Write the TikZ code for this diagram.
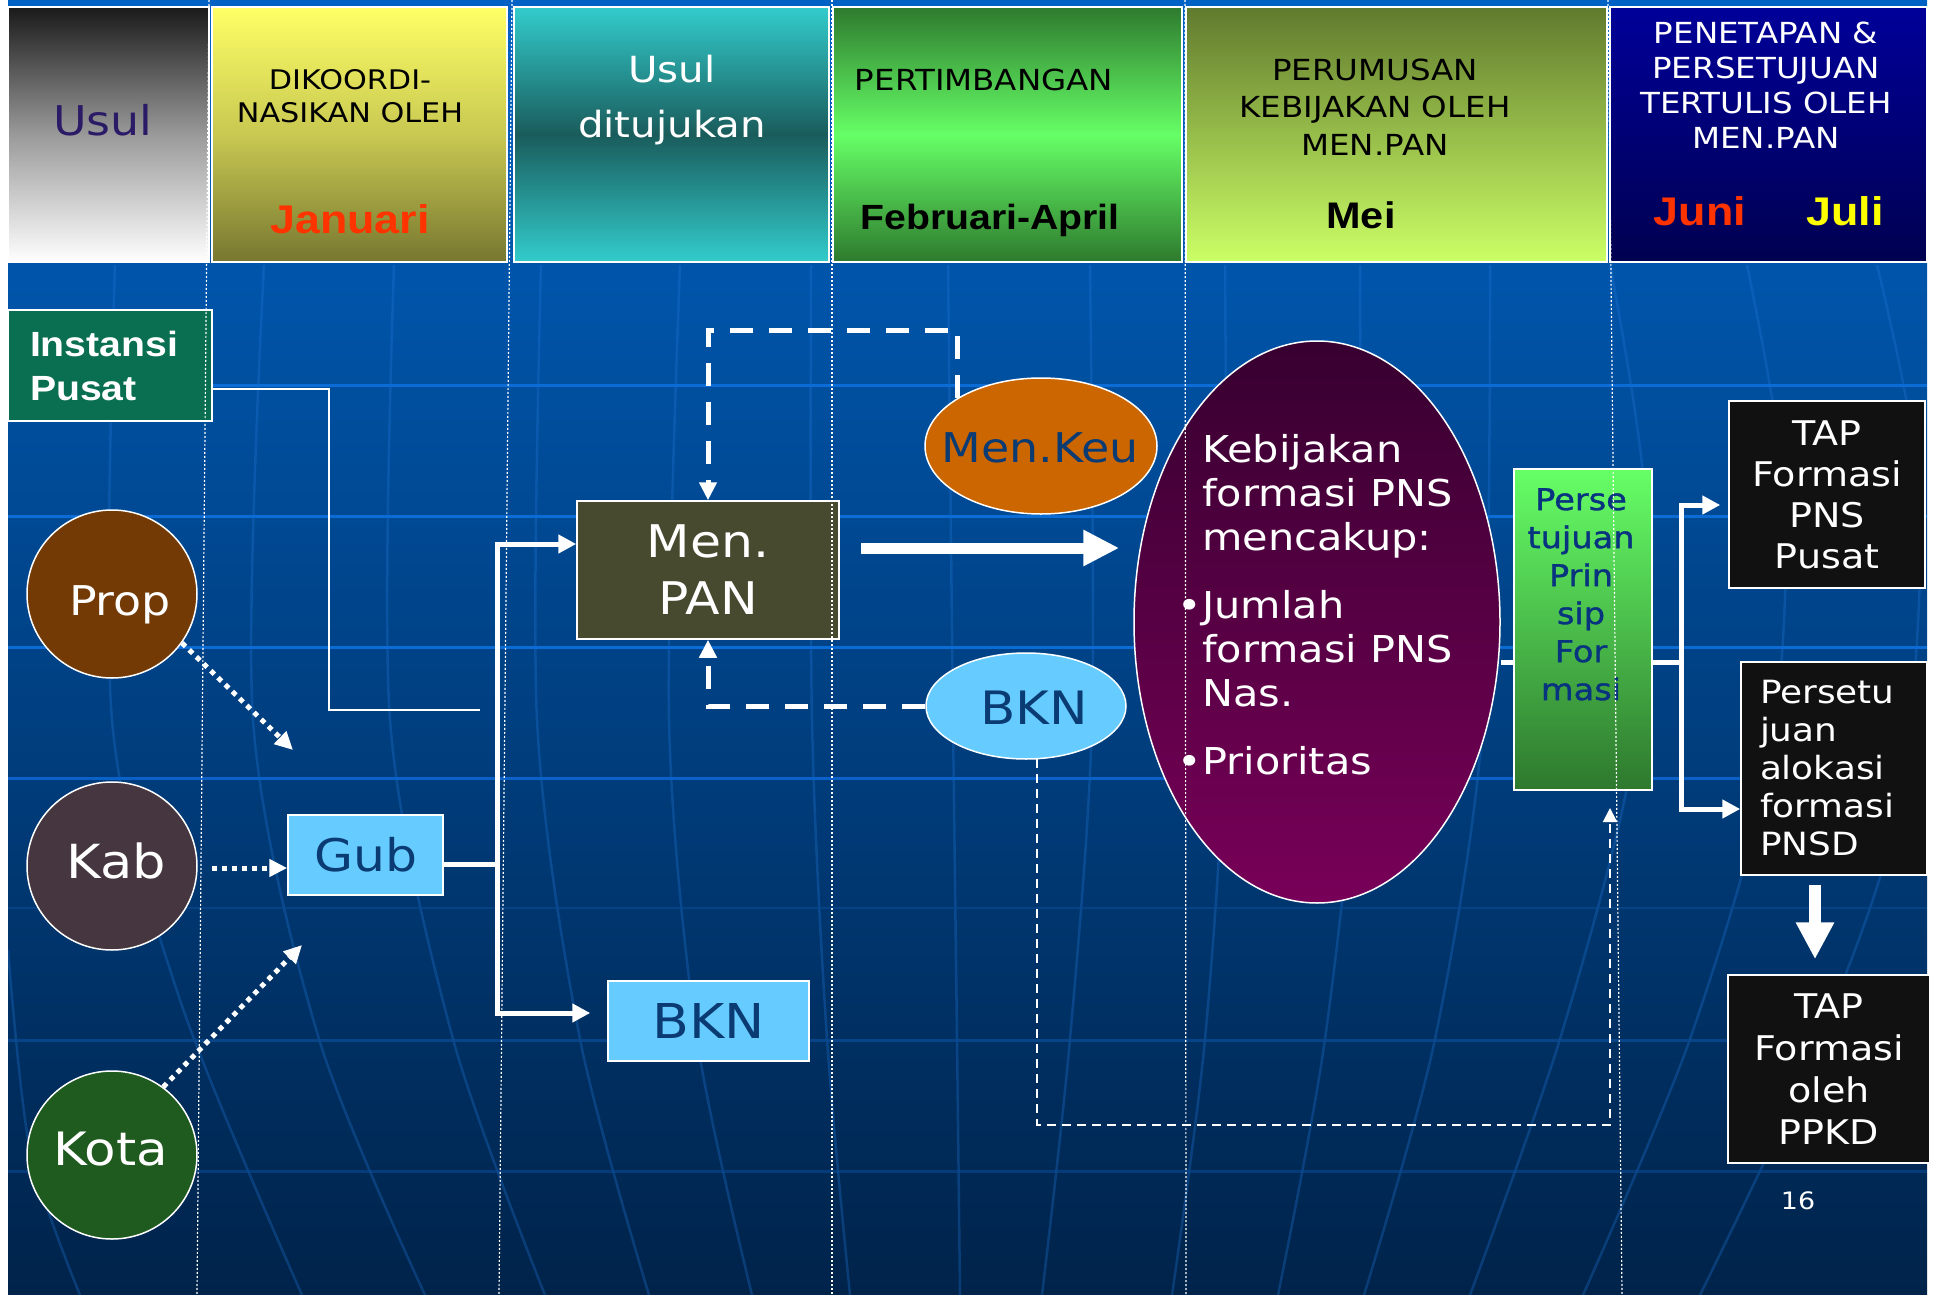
\documentclass[tikz,border=0pt]{standalone}
\usepackage{fontspec}
\setmainfont{DejaVu Sans}[FakeStretch=1.12]
\newfontfamily\arialb{Liberation Sans}[FakeStretch=1.12]
\newfontfamily\dvbold{DejaVu Sans}[FakeStretch=1.12,FakeBold=1.2]
\usetikzlibrary{shapes.geometric,arrows.meta}
\definecolor{bgtop}{HTML}{0062C4}
\definecolor{bgmid}{HTML}{004A94}
\definecolor{bgbot}{HTML}{00234A}
\definecolor{hlineA}{HTML}{0C6CD6}
\definecolor{hlineB}{HTML}{0A62C8}
\definecolor{hlineC}{HTML}{0A4A92}
\definecolor{meridc}{HTML}{2278DA}
\definecolor{usultxt}{HTML}{2B1A66}
\definecolor{redtxt}{HTML}{FF3300}
\definecolor{yellowtxt}{HTML}{FFFF00}
\definecolor{darkbluetxt}{HTML}{0B3B73}
\definecolor{instfill}{HTML}{0A6E50}
\definecolor{propfill}{HTML}{733A05}
\definecolor{kabfill}{HTML}{45363F}
\definecolor{kotafill}{HTML}{1F5A1E}
\definecolor{lightblue}{HTML}{66CCFF}
\definecolor{olivefill}{HTML}{474A2E}
\definecolor{orangefill}{HTML}{CC6600}
\definecolor{purpletop}{HTML}{370030}
\definecolor{purplebot}{HTML}{780058}
\definecolor{greentop}{HTML}{66FF66}
\definecolor{greenbot}{HTML}{2E782E}
\definecolor{blackfill}{HTML}{111111}
\definecolor{perstxt}{HTML}{08337F}
\definecolor{h1top}{HTML}{1A1A1A}
\definecolor{h1mid}{HTML}{9A9A9A}
\definecolor{h2top}{HTML}{FFFF66}
\definecolor{h2mid}{HTML}{C8C852}
\definecolor{h2bot}{HTML}{777730}
\definecolor{h3top}{HTML}{33CCCC}
\definecolor{h3mid}{HTML}{1A5C5C}
\definecolor{h4top}{HTML}{2E7A2E}
\definecolor{h4mid}{HTML}{66FF66}
\definecolor{h5top}{HTML}{617A2E}
\definecolor{h5bot}{HTML}{CCFF66}
\definecolor{h6top}{HTML}{000099}
\definecolor{h6bot}{HTML}{000050}
\newcommand\fsz[2]{\fontsize{#1}{#2}\selectfont}
\begin{document}
\begin{tikzpicture}[x=1pt,y=-1pt,
  hdr/.style={rectangle,draw=white,line width=1.5pt,inner sep=0pt},
  htext/.style={inner sep=0pt,align=center},
  box/.style={rectangle,draw=white,line width=1.5pt,inner sep=0pt,align=center},
  ell/.style={ellipse,draw=white,line width=1.5pt,inner sep=0pt},
  lbl/.style={inner sep=0pt,anchor=base},
  thickw/.style={draw=white,line width=5pt},
  tipw/.style={-{Triangle[length=18pt,width=18pt]}},
  dotw/.style={draw=white,line width=5pt,dash pattern=on 5pt off 5pt,-{Triangle[length=18pt,width=17pt]}},
  dashw/.style={draw=white,line width=5pt,dash pattern=on 23pt off 16pt,-{Triangle[length=18pt,width=17pt]}},
  thindash/.style={draw=white,line width=2pt,dash pattern=on 9pt off 6pt,-{Triangle[length=14pt,width=14pt]}},
  colsep/.style={draw=white,line width=1.2pt,dash pattern=on 2pt off 2pt},
  meridian/.style={draw=meridc,line width=2.5pt,opacity=0.3},
]
\useasboundingbox (0,0) rectangle (1933,1295);
\fill[white] (0,0) rectangle (1933,1295);
\shade[top color=bgtop,middle color=bgmid,bottom color=bgbot] (8,0) rectangle (1927,1295);

% background grid
\begin{scope}
\clip (8,265) rectangle (1927,1295);
\draw[meridian] plot[smooth] coordinates {(8,950) (30,1150) (80,1295)};
\draw[meridian] plot[smooth] coordinates {(115,265) (112,720) (180,1000) (302,1295)};
\draw[meridian] plot[smooth] coordinates {(264,265) (253,720) (319,1039) (425,1295)};
\draw[meridian] plot[smooth] coordinates {(394,265) (390,720) (453,1039) (545,1295)};
\draw[meridian] plot[smooth] coordinates {(541,265) (537,720) (580,1039) (649,1295)};
\draw[meridian] plot[smooth] coordinates {(680,265) (669,720) (697,1039) (752,1295)};
\draw[meridian] plot[smooth] coordinates {(811,265) (812,720) (827,1039) (850,1295)};
\draw[meridian] plot[smooth] coordinates {(948,265) (953,720) (957,1039) (960,1295)};
\draw[meridian] plot[smooth] coordinates {(1090,265) (1092,720) (1070,1039) (1042,1295)};
\draw[meridian] plot[smooth] coordinates {(1225,265) (1225,720) (1205,1039) (1172,1295)};
\draw[meridian] plot[smooth] coordinates {(1360,265) (1357,720) (1325,1039) (1278,1295)};
\draw[meridian] plot[smooth] coordinates {(1490,265) (1483,720) (1435,1039) (1364,1295)};
\draw[meridian] plot[smooth] coordinates {(1610,265) (1645,500) (1632,760) (1560,1039) (1470,1295)};
\draw[meridian] plot[smooth] coordinates {(1747,265) (1785,500) (1770,760) (1690,1039) (1583,1295)};
\draw[meridian] plot[smooth] coordinates {(1877,265) (1920,500) (1900,800) (1820,1039) (1700,1295)};
\end{scope}
\foreach \yy in {385,516,647} \draw[draw=hlineA,line width=3pt] (8,\yy) -- (1927,\yy);
\draw[draw=hlineB,line width=3pt] (8,778) -- (1927,778);
\draw[draw=hlineC,line width=2pt,opacity=0.6] (8,908) -- (1927,908);
\draw[draw=hlineC,line width=3pt,opacity=0.8] (8,1040) -- (1927,1040);
\draw[draw=hlineC,line width=3pt,opacity=0.6] (8,1171) -- (1927,1171);

% header
\node[hdr,top color=h1top,bottom color=white,middle color=h1mid,minimum width=201pt,minimum height=255pt] (hUsul) at (108.5,134.5) {};
\node[hdr,top color=h2top,bottom color=h2bot,middle color=h2mid,minimum width=295pt,minimum height=255pt] (hKoord) at (359.5,134.5) {};
\node[hdr,top color=h3top,bottom color=h3top,middle color=h3mid,minimum width=315pt,minimum height=255pt] (hDituju) at (671.5,134.5) {};
\node[hdr,top color=h4top,bottom color=h4top,middle color=h4mid,minimum width=349pt,minimum height=255pt] (hPert) at (1007.5,134.5) {};
\node[hdr,top color=h5top,bottom color=h5bot,minimum width=421pt,minimum height=255pt] (hPerum) at (1396.5,134.5) {};
\node[hdr,top color=h6top,bottom color=h6bot,minimum width=317pt,minimum height=255pt] (hPenet) at (1768.5,134.5) {};

\node[lbl,text=usultxt,font=\fsz{41}{49}] (tUsul) at (103,136) {Usul};
\node[htext,anchor=north,font=\fsz{27}{33}] (tKoord) at (350,69) {DIKOORDI-\\NASIKAN OLEH};
\node[lbl,text=redtxt,font={\arialb\bfseries\fsz{40}{48}}] (tJan) at (350,233) {Januari};
\node[htext,anchor=north,text=white,font=\fsz{36}{55}] (tDituju) at (672,55) {Usul\\ditujukan};
\node[lbl,font=\fsz{29}{35}] (tPert) at (984,91) {PERTIMBANGAN};
\node[lbl,font={\arialb\bfseries\fsz{35}{42}}] (tFeb) at (990,229) {Februari-April};
\node[htext,anchor=north,font=\fsz{29}{37.5}] (tPerum) at (1375,58.5) {PERUMUSAN\\KEBIJAKAN OLEH\\MEN.PAN};
\node[lbl,font={\arialb\bfseries\fsz{37}{44}}] (tMei) at (1361,228) {Mei};
\node[htext,anchor=north,text=white,font=\fsz{29}{35}] (tPenet) at (1766,21.5) {PENETAPAN \&\\PERSETUJUAN\\TERTULIS OLEH\\MEN.PAN};
\node[lbl,text=redtxt,font={\arialb\bfseries\fsz{40}{48}}] (tJuni) at (1700,225) {Juni};
\node[lbl,text=yellowtxt,font={\arialb\bfseries\fsz{40}{48}}] (tJuli) at (1845,225) {Juli};

% body nodes
\node[box,fill=instfill,minimum width=204pt,minimum height=111pt,text=white,align=left,text width=160pt,font={\arialb\bfseries\fsz{35}{44}}] (inst) at (110,365.5) {Instansi\\Pusat};
\node[ell,fill=propfill,minimum width=170pt,minimum height=168pt] (prop) at (112,594) {};
\node[lbl,text=white,font=\fsz{41}{49}] (propT) at (120,615) {Prop};
\node[ell,fill=kabfill,minimum width=170pt,minimum height=168pt] (kab) at (112,866) {};
\node[lbl,text=white,font=\fsz{47}{56}] (kabT) at (116,878) {Kab};
\node[ell,fill=kotafill,minimum width=170pt,minimum height=168pt] (kota) at (112,1155) {};
\node[lbl,text=white,font=\fsz{46}{55}] (kotaT) at (110.5,1165.5) {Kota};
\node[box,fill=lightblue,minimum width=155pt,minimum height=80pt,text=darkbluetxt,font=\fsz{45}{54}] (gub) at (365.5,855) {Gub};
\node[box,fill=lightblue,minimum width=201pt,minimum height=80pt,text=darkbluetxt,font=\fsz{48}{56}] (bknB) at (708.5,1021) {BKN};
\node[box,fill=olivefill,minimum width=262pt,minimum height=138pt,text=white,font=\fsz{45}{57}] (menpan) at (708,570) {Men.\\PAN};
\node[ell,fill=orangefill,minimum width=232pt,minimum height=136pt] (menkeu) at (1041,446) {};
\node[lbl,text=darkbluetxt,font=\fsz{41}{49}] (menkeuT) at (1040,462) {Men.Keu};
\node[ell,fill=lightblue,minimum width=200pt,minimum height=106pt] (bknE) at (1026,706) {};
\node[lbl,text=darkbluetxt,font=\fsz{46}{55}] (bknET) at (1034,724) {BKN};
\node[ell,top color=purpletop,bottom color=purplebot,minimum width=366pt,minimum height=562pt] (kebij) at (1317,622) {};
\node[htext,anchor=north west,align=left,text=white,font=\fsz{37}{44}] (kebijT) at (1202,434) {Kebijakan\\formasi PNS\\mencakup:\\[24pt]\llap{•}Jumlah\\formasi PNS\\Nas.\\[24pt]\llap{•}Prioritas};
\node[box,top color=greentop,bottom color=greenbot,minimum width=138pt,minimum height=321pt] (pers) at (1583,629.5) {};
\node[htext,anchor=north,text=perstxt,font={\dvbold\fsz{30}{38}}] (persT) at (1581,488) {Perse\\tujuan\\Prin\\sip\\For\\masi};
\node[box,fill=blackfill,minimum width=196pt,minimum height=187pt,text=white,font=\fsz{34}{41}] (tapP) at (1827,494.5) {TAP\\Formasi\\PNS\\Pusat};
\node[box,fill=blackfill,minimum width=186pt,minimum height=213pt,text=white,align=left,text width=148pt,font=\fsz{32}{38}] (perset) at (1834,768.5) {Persetu\\juan\\alokasi\\formasi\\PNSD};
\node[box,fill=blackfill,minimum width=202pt,minimum height=188pt,text=white,font=\fsz{34}{42}] (tapD) at (1829,1069) {TAP\\Formasi\\oleh\\PPKD};
\node[lbl,text=white,font=\fsz{24}{29}] (pageno) at (1798,1209) {16};

% connectors
\coordinate (instEnd) at (480,710);
\draw[draw=white,line width=2pt] (inst.east |- 0,389) -- (329,389) -- (329,710) -- (instEnd);

\coordinate (jTop) at (497,544);
\coordinate (jBot) at (497,1013);
\draw[thickw,line cap=rect] (jTop) -- (jBot);
\draw[thickw] (gub.east |- 0,864) -- (jTop |- 0,864);
\draw[thickw,tipw] (jTop) -- (menpan.west |- jTop);
\draw[thickw,tipw,shorten >=17pt] (jBot) -- (bknB.west |- jBot);

\coordinate (propTo) at (293,750);
\draw[dotw] (prop.-35) -- (propTo);
\draw[dotw,shorten <=14pt] (kab.east |- 0,868) -- (gub.west |- 0,868);
\coordinate (kotaTo) at (302,945);
\draw[dotw] (kota.53) -- (kotaTo);

\draw[dashw] (menkeu.150) |- (menpan.north |- 0,330) -- (menpan.north);
\draw[dashw] (bknE.west) -| (menpan.south);

\draw[draw=white,line width=11pt,-{Triangle[length=36pt,width=34pt]},shorten <=21pt,shorten >=14pt] (menpan.east |- 0,548) -- (kebij.west |- 0,548);

\coordinate (persUp) at (1610,808);
\draw[thindash] (bknE.-78) |- (persUp |- 0,1125) -- (persUp);

\draw[thickw] (kebij.east |- 0,662) -- (pers.west |- 0,662);
\coordinate (bTop) at (1681,505);
\coordinate (bBot) at (1681,809);
\draw[thickw] (pers.east |- 0,662) -- (bTop |- 0,662);
\draw[thickw,line cap=rect] (bTop) -- (bBot);
\draw[thickw,tipw,shorten >=8pt] (bTop) -- (tapP.west |- bTop);
\draw[thickw,tipw] (bBot) -- (perset.west |- bBot);

\draw[draw=white,line width=12pt,-{Triangle[length=37pt,width=36pt]},shorten <=9pt,shorten >=15pt] (perset.south -| 1815,0) -- (tapD.north -| 1815,0);

% column separators
\draw[colsep] (209,0) -- (197,1295);
\draw[colsep] (512,0) -- (499,1295);
\draw[colsep] (832,0) -- (832,1295);
\draw[colsep] (1185,0) -- (1186,1295);
\draw[colsep] (1608,0) -- (1622,1295);
\end{tikzpicture}
\end{document}
